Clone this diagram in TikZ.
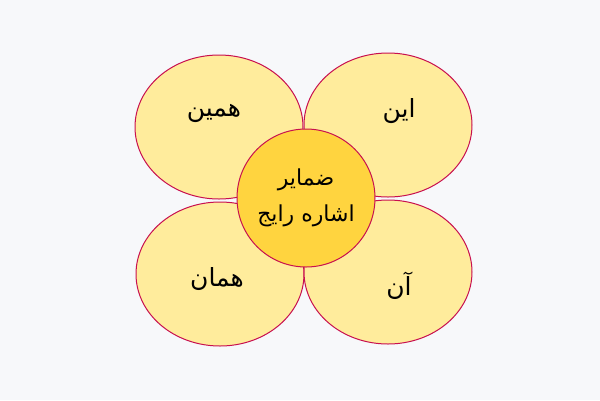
\documentclass[tikz,border=0pt]{standalone}
\usepackage{fontspec}
\newfontfamily\arabicfont[Script=Arabic]{DejaVu Sans}
\TeXXeTstate=1
\usetikzlibrary{shapes.geometric}
\definecolor{bgcol}{HTML}{F7F8FA}
\definecolor{petal}{HTML}{FFEC9C}
\definecolor{heart}{HTML}{FFD43F}
\definecolor{rim}{HTML}{C8104F}
\tikzset{
  petalnode/.style={ellipse, draw=rim, fill=petal, line width=1pt,
    minimum width=168pt, minimum height=144pt, inner sep=0pt},
  heartnode/.style={circle, draw=rim, fill=heart, line width=1pt,
    minimum size=138pt, inner sep=0pt},
  word/.style={font=\arabicfont\fontsize{25}{30}\selectfont, text=black,
    align=center, inner sep=0pt},
  midword/.style={font=\arabicfont\fontsize{22}{36}\selectfont, text=black,
    align=center}
}
\begin{document}
\begin{tikzpicture}[x=1pt,y=-1pt]
  \fill[bgcol] (0,0) rectangle (600,400);
  \useasboundingbox (0,0) rectangle (600,400);
  % four petals
  \node[petalnode] (hamin) at (219,127) {};
  \node[petalnode] (een)   at (388,125) {};
  \node[petalnode] (haman) at (220,274) {};
  \node[petalnode] (aan)   at (388,272) {};
  % centre
  \node[heartnode] (zamayer) at (306,198) {};
  \node[midword] (t-zamayer) at (zamayer.center)
    {\beginR ضمایر\endR\\\beginR اشاره رایج\endR};
  % words
  \node[word] (t-hamin) at (214,113) {\beginR همین\endR};
  \node[word] (t-een)   at (399,111) {\beginR این\endR};
  \node[word] (t-haman) at (217,279) {\beginR همان\endR};
  \node[word] (t-aan)   at (399,286) {\beginR آن\endR};
\end{tikzpicture}
\end{document}
